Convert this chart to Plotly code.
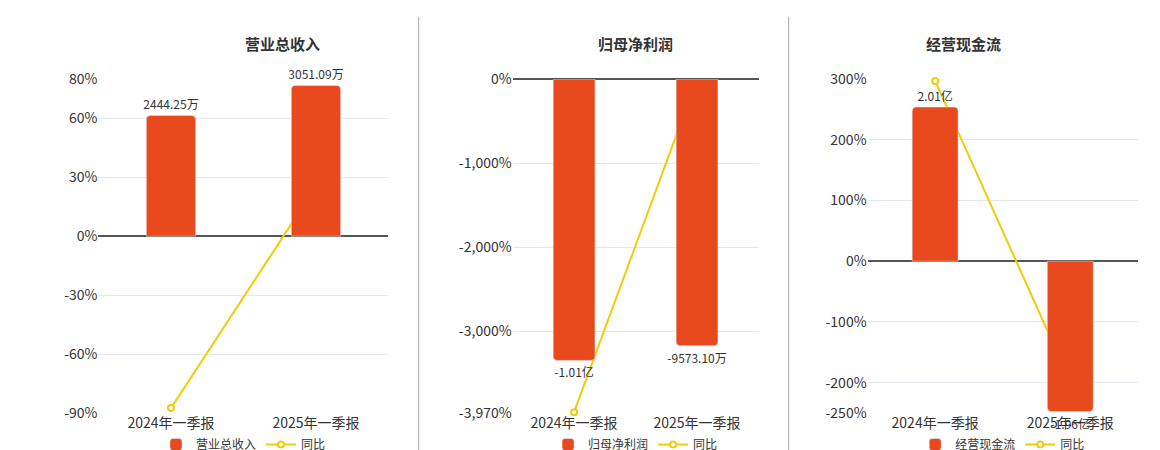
import plotly.graph_objects as go

periods = ["2024年一季报", "2025年一季报"]

# 营业总收入 (万元) / 同比 (%)
rev_vals = [2444.25, 3051.09]
rev_text = ["2444.25万", "3051.09万"]
rev_yoy = [-87.5, 25.4]

# 归母净利润 (万元) / 同比 (%)
np_vals = [-10100, -9573.10]
np_text = ["-1.01亿", "-9573.10万"]
np_yoy = [-3960, 0.5]

# 经营现金流 (亿元) / 同比 (%)
cf_vals = [2.01, -1.96]
cf_text = ["2.01亿", "-1.96亿"]
cf_yoy = [297, -198]

BAR = "#E84A1D"
LINE = "#F2CC0C"

panels = [
    dict(name="营业总收入", vals=rev_vals, text=rev_text, yoy=rev_yoy,
         rng=[-90, 80], ticks=[80, 60, 30, 0, -30, -60, -90], k=2444.25 / 61.5,
         dom=[0.078, 0.328], fmt="{}%"),
    dict(name="归母净利润", vals=np_vals, text=np_text, yoy=np_yoy,
         rng=[-3970, 0], ticks=[0, -1000, -2000, -3000, -3970], k=10100 / 3345,
         dom=[0.435, 0.647], fmt="{:,}%"),
    dict(name="经营现金流", vals=cf_vals, text=cf_text, yoy=cf_yoy,
         rng=[-250, 300], ticks=[300, 200, 100, 0, -100, -200, -250], k=2.01 / 254,
         dom=[0.741, 0.974], fmt="{}%"),
]

fig = go.Figure()
layout = {}
ydom = [0.1, 0.842]
for i, p in enumerate(panels):
    xa = "x" if i == 0 else f"x{i + 1}"
    ya = f"y{2 * i + 1}" if i else "y"
    yb = f"y{2 * i + 2}"
    leg = "legend" if i == 0 else f"legend{i + 1}"
    fig.add_trace(go.Bar(
        x=periods, y=p["vals"], text=p["text"], textposition="outside",
        constraintext="none", textfont=dict(size=12, color="#333"), cliponaxis=False,
        marker=dict(color=BAR, cornerradius=4), width=0.34, name=p["name"],
        xaxis=xa, yaxis=yb, legend=leg))
    fig.add_trace(go.Scatter(
        x=periods, y=p["yoy"], mode="lines+markers", name="同比",
        line=dict(color=LINE, width=2), cliponaxis=False,
        marker=dict(size=6, color="white", line=dict(color=LINE, width=2)),
        xaxis=xa, yaxis=ya, legend=leg))

    xkey = "xaxis" if i == 0 else f"xaxis{i + 1}"
    ykey = "yaxis" if i == 0 else f"yaxis{2 * i + 1}"
    ykey2 = f"yaxis{2 * i + 2}"
    layout[xkey] = dict(domain=p["dom"], anchor=ya, showgrid=False, showline=False,
                        ticks="", tickfont=dict(size=14, color="#333"))
    layout[ykey] = dict(domain=ydom, anchor=xa, range=p["rng"], tickvals=p["ticks"],
                        ticktext=[p["fmt"].format(t) for t in p["ticks"]],
                        tickfont=dict(size=14, color="#333"), gridcolor="#E6E8F0",
                        zeroline=True, zerolinecolor="#555", zerolinewidth=1.5,
                        showline=False)
    layout[ykey2] = dict(overlaying=ya, anchor=xa, side="right",
                         range=[p["rng"][0] * p["k"], p["rng"][1] * p["k"]],
                         visible=False, showgrid=False, zeroline=False)
    cx = (p["dom"][0] + p["dom"][1]) / 2
    layout[leg] = dict(orientation="h", x=cx, xanchor="center", y=0.03, yanchor="middle",
                       font=dict(size=12, color="#333"), bgcolor="rgba(0,0,0,0)")

annotations = [dict(text=f"<b>{p['name']}</b>", x=(p["dom"][0] + p["dom"][1]) / 2,
                    y=0.95, xref="paper", yref="paper", showarrow=False,
                    font=dict(size=15, color="#333")) for p in panels]
shapes = [dict(type="line", xref="paper", yref="paper", x0=x, x1=x, y0=0.015, y1=0.98,
               line=dict(color="#AAAAAA", width=1)) for x in (0.354, 0.673)]

fig.update_layout(width=1160, height=450,
                  margin=dict(l=0, r=0, t=0, b=0, autoexpand=False),
                  plot_bgcolor="white", paper_bgcolor="white", barmode="group",
                  font=dict(family="Noto Sans CJK SC, Noto Sans, sans-serif"),
                  annotations=annotations, shapes=shapes, **layout)
fig.write_html("out.html")
